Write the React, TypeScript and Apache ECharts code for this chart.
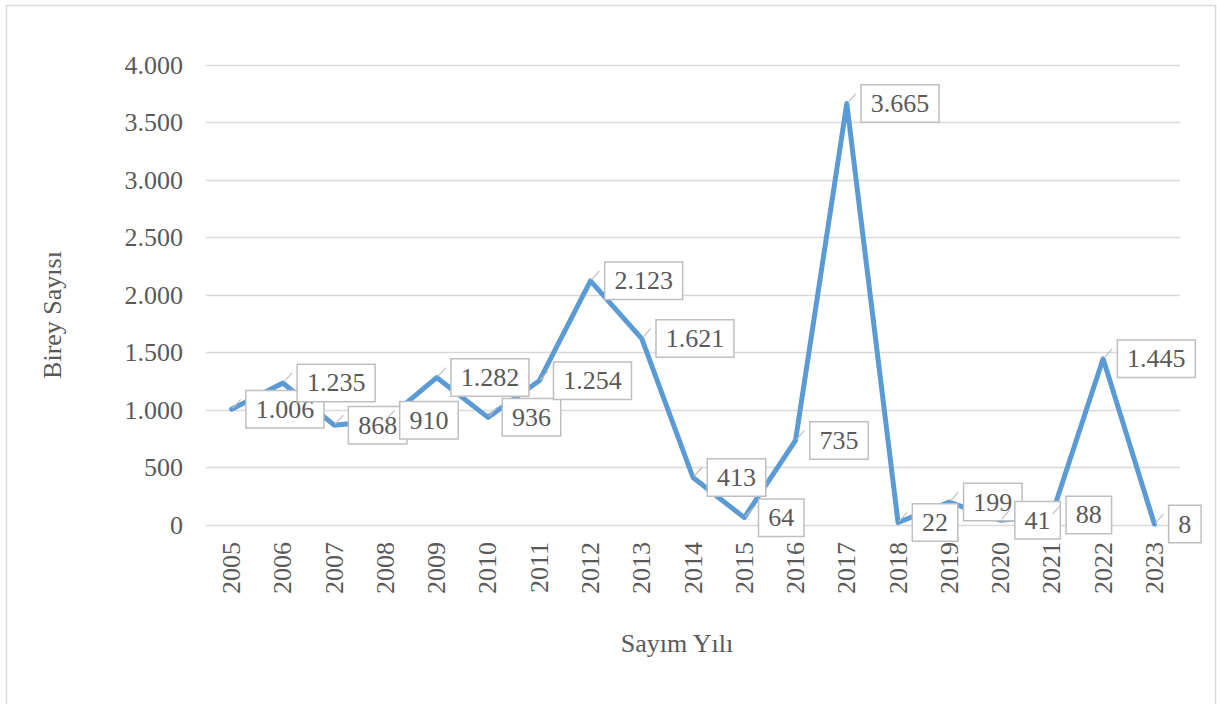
import React, { useEffect, useRef } from "react";
import * as echarts from "echarts";

const years = ["2005","2006","2007","2008","2009","2010","2011","2012","2013","2014","2015","2016","2017","2018","2019","2020","2021","2022","2023"];
const counts = [1006, 1235, 868, 910, 1282, 936, 1254, 2123, 1621, 413, 64, 735, 3665, 22, 199, 41, 88, 1445, 8];
const yTitle = "Birey Sayısı";
const xTitle = "Sayım Yılı";

const FONT = "Liberation Serif";
const TEXT = "#595959";

function fmt(v: number): string {
  return String(Math.round(v)).replace(/\B(?=(\d{3})+(?!\d))/g, ".");
}

export default function App() {
  const ref = useRef<HTMLDivElement>(null);
  useEffect(() => {
    if (!ref.current) return;
    const chart = echarts.init(ref.current, null, { renderer: "svg" });
    chart.setOption({
      animation: false,
      backgroundColor: "#ffffff",
      textStyle: { fontFamily: FONT, color: TEXT },
      grid: { left: 206, right: 37, top: 65, bottom: 179, containLabel: false },
      xAxis: {
        type: "category",
        data: years,
        boundaryGap: true,
        axisLine: { show: false },
        axisTick: { show: false },
        axisLabel: { rotate: 90, margin: 17, fontSize: 26, color: TEXT, fontFamily: FONT },
      },
      yAxis: {
        type: "value",
        min: 0,
        max: 4000,
        interval: 500,
        axisLine: { show: false },
        axisTick: { show: false },
        splitLine: { lineStyle: { color: "#d9d9d9", width: 1.3 } },
        axisLabel: { margin: 23, fontSize: 26, color: TEXT, fontFamily: FONT, formatter: (v: number) => fmt(v) },
      },
      graphic: [
        {
          type: "rect",
          shape: { x: 6.5, y: 5.5, width: 1209, height: 720 },
          style: { fill: "none", stroke: "#d9d9d9", lineWidth: 1.5 },
          silent: true,
          z: -10,
        },
        {
          type: "text",
          x: 52,
          y: 315,
          rotation: Math.PI / 2,
          style: { text: yTitle, fontSize: 26, fontFamily: FONT, fill: TEXT, align: "center", verticalAlign: "middle" },
        },
        {
          type: "text",
          x: 677,
          y: 643,
          style: { text: xTitle, fontSize: 26, fontFamily: FONT, fill: TEXT, align: "center", verticalAlign: "middle" },
        },
      ],
      series: [
        {
          type: "line",
          data: counts,
          symbol: "circle",
          symbolSize: 2,
          showSymbol: true,
          itemStyle: { color: "#5b9bd5" },
          lineStyle: { color: "#5b9bd5", width: 5, cap: "round", join: "round" },
          z: 2,
          label: {
            show: true,
            position: "right",
            distance: 14,
            formatter: (p: any) => fmt(p.value),
            fontSize: 26,
            fontFamily: FONT,
            color: TEXT,
            backgroundColor: "#ffffff",
            borderColor: "#bfbfbf",
            borderWidth: 1.5,
            padding: [4, 9, 2, 9],
            lineHeight: 30,
          },
        },
        {
          type: "custom",
          data: counts.map((v, i) => [i, v]),
          z: 3,
          silent: true,
          renderItem: (params: any, api: any) => {
            const p = api.coord([api.value(0), api.value(1)]);
            return {
              type: "line",
              shape: { x1: p[0] + 1, y1: p[1] - 1, x2: p[0] + 9, y2: p[1] - 10 },
              style: { stroke: "#bfbfbf", lineWidth: 1.2 },
            };
          },
        },
      ],
    });
    return () => chart.dispose();
  }, []);
  return <div ref={ref} style={{ position: "fixed", left: 0, top: 0, width: 1217, height: 704 }} />;
}
